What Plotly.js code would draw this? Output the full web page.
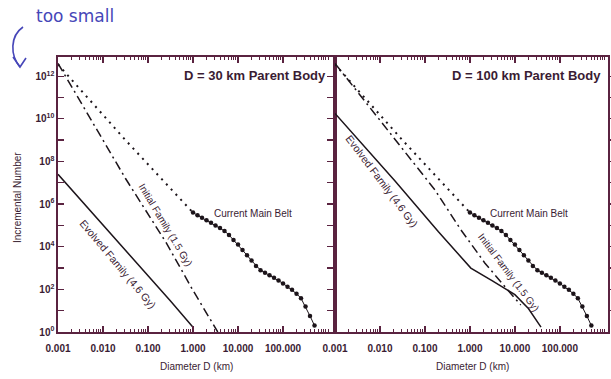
<!DOCTYPE html>
<html>
<head>
<meta charset="utf-8">
<script src="https://cdn.plot.ly/plotly-3.0.1.min.js"></script>
<style>
  html, body { margin: 0; padding: 0; background: #ffffff; }
  #chart { width: 611px; height: 379px; }
</style>
</head>
<body>
<div id="chart"></div>
<script>
// Size distributions, stored as log10 values: diameter D (km) and incremental number N.

// Current main belt: straight extrapolation to small sizes, then observed points.
const beltExtrapLogD = [-3.0, -1.5, 0.0];
const beltExtrapLogN = [12.55, 9.0, 5.6];
const beltLogD = [0.0, 0.1, 0.2, 0.3, 0.4, 0.5, 0.6, 0.7, 0.8, 0.9, 1.0, 1.1, 1.2, 1.3,
                  1.4, 1.5, 1.6, 1.7, 1.8, 1.9, 2.0, 2.1, 2.2, 2.3, 2.4, 2.5, 2.6, 2.7];
const beltLogN = [5.6, 5.48, 5.36, 5.24, 5.12, 5.0, 4.88, 4.74, 4.55, 4.32, 4.1, 3.85, 3.6, 3.35,
                  3.1, 2.9, 2.78, 2.66, 2.55, 2.42, 2.28, 2.12, 1.98, 1.8, 1.58, 1.2, 0.75, 0.3];

// D = 30 km parent body
const initial30LogD = [-3.0, -1.5, -0.6, 0.0, 0.55];
const initial30LogN = [12.6, 7.2, 4.2, 1.95, 0.0];
const evolved30LogD = [-3.0, -1.5, -0.5, 0.0];
const evolved30LogN = [7.4, 3.85, 1.45, 0.22];

// D = 100 km parent body
const initial100LogD = [-3.0, -0.78, -0.2, 0.33, 0.84, 1.13];
const initial100LogN = [12.6, 6.67, 4.79, 3.24, 1.97, 1.27];
const evolved100LogD = [-3.0, -1.67, -0.7, 0.02, 0.5, 1.0, 1.3, 1.58];
const evolved100LogN = [10.25, 7.1, 4.7, 3.0, 2.4, 1.75, 1.1, 0.23];

// Axis ticks
const xTickVals = [0.001, 0.01, 0.1, 1, 10, 100];
const xTickText = ['0.001', '0.010', '0.100', '1.000', '10.000', '100.000'];
const yTickExp = [0, 1, 2, 3, 4, 5, 6, 7, 8, 9, 10, 11, 12];

const panelTitles = ['D = 30 km Parent Body', 'D = 100 km Parent Body'];
const xTitle = 'Diameter D (km)';
const yTitle = 'Incremental Number';
const note = 'too small';

const pow10 = a => a.map(v => Math.pow(10, v));

const ink = '#1c141a';
const frame = '#5a2340';
const textCol = '#3a1c33';
const pen = '#4646b8';
const font = 'Liberation Sans, Arial, sans-serif';

const dotted = { color: ink, width: 2, dash: '2px,5px' };
const dashDot = { color: ink, width: 1.5, dash: '9px,4px,2px,4px' };
const solid = { color: ink, width: 1.5 };

function panelTraces(xa, iniD, iniN, evoD, evoN) {
  return [
    { x: pow10(beltExtrapLogD), y: pow10(beltExtrapLogN), xaxis: xa, yaxis: 'y',
      mode: 'lines', line: dotted, hoverinfo: 'skip' },
    { x: pow10(beltLogD), y: pow10(beltLogN), xaxis: xa, yaxis: 'y',
      mode: 'lines+markers', line: { color: ink, width: 1 },
      marker: { color: ink, size: 4.5 }, hoverinfo: 'skip' },
    { x: pow10(iniD), y: pow10(iniN), xaxis: xa, yaxis: 'y',
      mode: 'lines', line: dashDot, hoverinfo: 'skip' },
    { x: pow10(evoD), y: pow10(evoN), xaxis: xa, yaxis: 'y',
      mode: 'lines', line: solid, hoverinfo: 'skip' }
  ];
}

const traces = [].concat(
  panelTraces('x', initial30LogD, initial30LogN, evolved30LogD, evolved30LogN),
  panelTraces('x2', initial100LogD, initial100LogN, evolved100LogD, evolved100LogN)
);

// Plot area spans 58..608 px horizontally and 57..332 px vertically.
const L = 58, T = 57, W = 550, H = 275;
const px = p => (p - L) / W;
const py = p => (T + H - p) / H;
const split = 277 / W;

const tickFont = { family: font, size: 10, color: textCol, weight: 'bold' };

function xAxis(domain, range) {
  return {
    type: 'log', domain: domain, range: range, anchor: 'y',
    tickmode: 'array', tickvals: xTickVals, ticktext: xTickText,
    ticks: 'inside', ticklen: 6, tickwidth: 1.3, tickcolor: frame,
    minor: { ticks: 'inside', ticklen: 3, tickwidth: 1, tickcolor: frame, dtick: 'D1', showgrid: false },
    showline: true, linecolor: frame, linewidth: 1.6, mirror: 'allticks',
    showgrid: false, zeroline: false, tickfont: tickFont, ticklabelstandoff: 6
  };
}

// Text placed by its centre, in pixel positions of the page.
function label(text, cx, cy, opts) {
  return Object.assign({
    text: text, xref: 'paper', yref: 'paper', x: px(cx), y: py(cy),
    xanchor: 'center', yanchor: 'middle', showarrow: false,
    font: { family: font, size: 10, color: textCol }
  }, opts || {});
}

const layout = {
  width: 611, height: 379,
  margin: { l: L, r: 3, t: T, b: 47 },
  paper_bgcolor: '#ffffff', plot_bgcolor: '#ffffff',
  showlegend: false,
  xaxis: xAxis([0, split], [-3, 3.155]),
  xaxis2: xAxis([split, 1], [-3, 3.07]),
  yaxis: {
    type: 'log', range: [0, 12.9], anchor: 'x',
    tickmode: 'array', tickvals: pow10(yTickExp),
    ticktext: yTickExp.map(e => e % 2 === 0 ? '10<sup>' + e + '</sup>' : ''),
    ticks: 'inside', ticklen: 6, tickwidth: 1.3, tickcolor: frame,
    showline: true, linecolor: frame, linewidth: 1.6, mirror: 'allticks',
    showgrid: false, zeroline: false,
    tickfont: { family: font, size: 10, color: textCol, weight: 'bold' }
  },
  annotations: [
    label(panelTitles[0], 328, 75, { xanchor: 'right',
      font: { family: font, size: 13, color: textCol, weight: 'bold' } }),
    label(panelTitles[1], 603, 75, { xanchor: 'right',
      font: { family: font, size: 13, color: textCol, weight: 'bold' } }),
    label('Current Main Belt', 212, 213, { xanchor: 'left' }),
    label('Current Main Belt', 488, 213, { xanchor: 'left' }),
    label('Initial Family (1.5 Gy)', 165, 225, { textangle: 59 }),
    label('Evolved Family (4.6 Gy)', 118, 264, { textangle: 50,
      font: { family: font, size: 10.5, color: textCol } }),
    label('Evolved Family (4.6 Gy)', 382, 181, { textangle: 53,
      font: { family: font, size: 10.5, color: textCol } }),
    label('Initial Family (1.5 Gy)', 509, 272, { textangle: 53 }),
    label(xTitle, 196, 366),
    label(xTitle, 472, 366),
    label(yTitle, 17, 198, { textangle: -90 }),
    label(note, 34, 16, { xanchor: 'left',
      font: { family: 'DejaVu Sans, sans-serif', size: 17, color: pen } })
  ],
  shapes: [
    // hand-drawn arrow pointing at the top of the y axis
    { type: 'path', xref: 'paper', yref: 'paper',
      path: 'M ' + px(23) + ',' + py(27) + ' C ' + px(10) + ',' + py(36) + ' ' + px(10) + ',' + py(55) +
            ' ' + px(20) + ',' + py(67),
      line: { color: pen, width: 1.6 } },
    { type: 'path', xref: 'paper', yref: 'paper',
      path: 'M ' + px(13) + ',' + py(57) + ' L ' + px(20) + ',' + py(67) + ' L ' + px(26) + ',' + py(58),
      line: { color: pen, width: 1.6 } }
  ]
};

Plotly.newPlot('chart', traces, layout, { staticPlot: true, displayModeBar: false });
</script>
</body>
</html>
